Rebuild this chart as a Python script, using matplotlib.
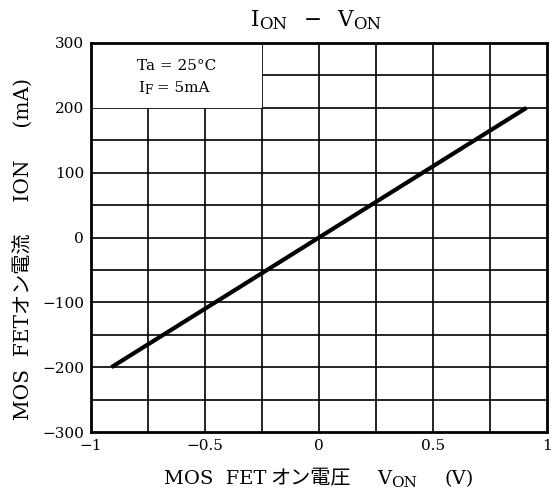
import numpy as np
import matplotlib
matplotlib.use("Agg")
import matplotlib.pyplot as plt
from matplotlib.patches import Rectangle
from matplotlib.transforms import IdentityTransform

FAM = ['DejaVu Serif', 'Noto Sans CJK JP', 'DejaVu Sans']
plt.rcParams['font.family'] = FAM

# data
v_on = [-0.91, 0.0, 0.91]
i_on = [-200, 0, 200]

xticks = [-1, -0.5, 0, 0.5, 1]
xticklabels = ['−1', '−0.5', '0', '0.5', '1']
yticks = [-300, -200, -100, 0, 100, 200, 300]
yticklabels = ['−300', '−200', '−100', '0', '100', '200', '300']

W, H = 553, 497
fig = plt.figure(figsize=(W / 100, H / 100), dpi=100)
ax = fig.add_axes([91 / W, 1 - 432 / H, (547 - 91) / W, (432 - 43) / H])

ax.set_xlim(-1, 1)
ax.set_ylim(-300, 300)

# grid every 0.25 V and 50 mA
for gx in np.arange(-0.75, 1.0, 0.25):
    ax.axvline(gx, color='black', lw=1.2, zorder=1)
for gy in np.arange(-250, 300, 50):
    ax.axhline(gy, color='black', lw=1.2, zorder=1)

# condition box blanks the grid top-left
ax.add_patch(Rectangle((-1, 200), 0.75, 100, facecolor='white', edgecolor='none', zorder=2))

ax.plot(v_on, i_on, color='black', lw=3, solid_capstyle='butt', zorder=4)

ax.set_xticks(xticks)
ax.set_xticklabels(xticklabels)
ax.set_yticks(yticks)
ax.set_yticklabels(yticklabels)
ax.tick_params(length=0, pad=5, labelsize=11)

for sp in ax.spines.values():
    sp.set_linewidth(2)
    sp.set_zorder(5)

renderer = fig.canvas.get_renderer()


def rich(xc, y, pieces):
    # pieces: (text, fontsize, dy_px) or (None, gap_px); placed left to right, centred on xc
    items = []
    total = 0
    for p in pieces:
        if p[0] is None:
            items.append((None, p[1], 0))
            total += p[1]
            continue
        s, size, dy = p
        t = fig.text(0, 0, s, fontsize=size, family=FAM, ha='left', va='baseline',
                     transform=IdentityTransform())
        w = t.get_window_extent(renderer).width
        items.append((t, w, dy))
        total += w
    x = xc - total / 2
    for t, w, dy in items:
        if t is not None:
            t.set_position((x, H - y + dy))
        x += w


rich(316, 26, [('I', 15.5, 0), ('ON', 12, -3), (None, 16), ('−', 15.5, 0), (None, 16),
               ('V', 15.5, 0), ('ON', 12, -3)])
rich(319, 484, [('MOS  FET', 14, 0), (None, 3), ('オン電圧', 14.5, 0), (None, 27),
                ('V', 14, 0), ('ON', 11, -3), (None, 27), ('(V)', 14, 0)])

# conditions text
x0, y0 = 177, 70
rich(x0, y0, [('Ta = 25°C', 11, 0)])
rich(x0 - 3, y0 + 22, [('I', 11, 0), ('F', 8.5, -2), (' = 5mA', 11, 0)])

fig.text(24 / W, 1 - 249 / H, 'MOS  FETオン電流     ION     (mA)', ha='center', va='center',
         rotation=90, fontsize=14.5, family=FAM)

fig.savefig('out.png', dpi=100)
